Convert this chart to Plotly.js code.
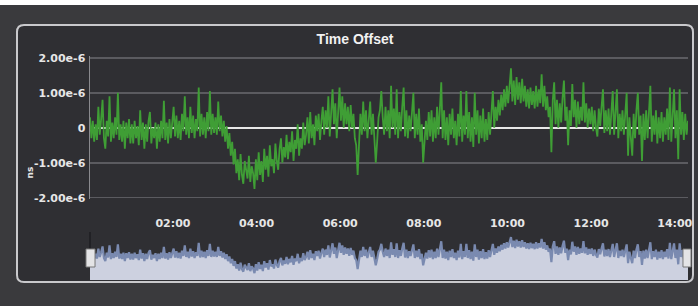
<!DOCTYPE html>
<html>
<head>
<meta charset="utf-8">
<script src="https://cdn.plot.ly/plotly-3.0.1.min.js"></script>
<style>html,body{margin:0;padding:0;background:#3a3a3d;}#chart{width:698px;height:306px;}</style>
</head>
<body>
<div id="chart"></div>
<script>
// ---- data (time offset, in units of 1e-6, one sample every 2 minutes from 00:01) ----
const startDay = '2015-01-01';
const startMinute = 1;      // 00:01
const stepMinutes = 2;
const offsetMicro = [
  // 00h
  0.3, -0.3, 0.2, -0.4, 0.1, -0.35, 0.6, -0.2, 0.25, 0.8, -0.3, -0.6, 0.2, -0.25, 0.9, -0.4, 0.15, -0.3, 0.3, -0.2, 1.0, -0.35, 0.1, -0.4, 0.2, -0.6, 0.15, -0.3, 0.25, -0.45,
  // 01h
  0.1, -0.45, 0.2, -0.3, 0.05, -0.5, 0.5, -0.35, 0.15, -0.6, 0.1, -0.4, 0.2, 0.45, -0.45, 0.0, -0.3, 0.15, -0.6, 0.1, -0.4, 0.2, -0.3, 0.77, -0.35, 0.15, -0.45, 0.25, -0.3, 0.2,
  // 02h
  0.6, -0.25, 0.35, -0.3, 0.2, -0.35, 0.4, -0.1, 0.9, -0.2, 0.3, -0.3, 0.6, -0.15, 0.35, -0.3, 0.25, -0.1, 1.15, -0.25, 0.4, -0.2, 0.3, -0.3, 0.45, -0.1, 1.05, -0.2, 0.4, -0.15,
  // 03h
  0.3, -0.2, 0.75, -0.1, 0.35, -0.25, 0.2, -0.4, 0.05, -0.6, -0.15, -0.8, -0.4, -1.05, -0.6, -1.3, -0.9, -1.5, -0.75, -1.35, -1.6, -0.95, -1.2, -1.45, -0.8, -1.55, -1.1, -1.3, -1.75, -0.9,
  // 04h
  -1.5, -0.7, -1.35, -0.95, -1.55, -0.6, -1.2, -0.8, -1.4, -0.5, -1.1, -0.9, -1.3, -0.45, -0.95, -1.2, -0.6, -0.3, -1.0, -0.55, -0.85, -0.2, -0.9, -0.4, -0.7, -0.1, -0.95, -0.35, -0.6, 0.1,
  // 05h
  -0.8, -0.3, -0.6, 0.15, -0.5, -0.2, 0.3, -0.45, 0.45, -0.3, 0.1, -0.5, 0.35, -0.1, 0.4, -0.35, 0.2, 0.6, -0.2, 0.5, 0.0, 0.9, -0.25, 0.6, 1.1, 0.1, 0.7, -0.3, 0.5, 1.15,
  // 06h
  0.2, 0.9, 0.0, 0.7, 0.1, 0.6, -0.1, 0.65, 0.0, 0.4, -0.3, -0.5, -1.35, -0.3, 0.4, -0.2, 0.75, -0.1, 0.5, -0.3, 0.35, 0.75, -0.2, 0.4, -0.3, -1.0, -0.4, 0.3, 0.5, 1.05,
  // 07h
  0.3, -0.2, 0.6, -0.1, 0.5, -0.3, 1.2, 0.0, 0.55, -0.2, 1.1, -0.3, 0.45, -0.1, 0.6, 1.15, -0.25, 0.5, -0.3, 0.35, -0.1, 0.5, 1.0, -0.3, 0.4, -0.2, 0.55, -0.4, 0.1, -1.0,
  // 08h
  -0.5, 0.2, -0.35, 0.45, -0.25, 0.5, -0.4, 0.3, -0.3, 0.6, -0.2, 0.4, 1.3, -0.3, 0.5, -0.35, 0.3, -0.5, 0.4, -0.2, 0.55, -0.3, 0.2, -0.5, 0.4, -0.25, 1.05, -0.4, 0.35, -0.2,
  // 09h
  1.05, -0.3, 0.45, -0.4, 0.3, -0.55, 1.0, -0.2, 0.5, -0.45, 0.35, -0.3, 0.55, -0.4, 0.25, -0.35, 0.45, -0.2, 0.3, 1.05, 0.0, 0.6, 0.2, 0.8, 0.35, 0.95, 0.5, 1.1, 0.6, 1.2,
  // 10h
  0.7, 1.3, 1.7, 0.75, 1.35, 0.65, 1.45, 0.8, 1.3, 0.7, 1.4, 0.75, 1.2, 0.6, 1.1, 0.55, 1.15, 0.65, 1.05, 0.55, 1.2, 0.6, 1.1, 0.7, 1.53, 0.6, 1.2, 0.5, 0.9, 0.3,
  // 11h
  0.6, -0.7, 0.8, 1.3, 0.1, 0.8, 0.0, 0.7, 0.15, 0.85, 1.35, 0.2, 0.6, -0.5, 0.5, 0.05, 1.25, 0.3, 0.8, 0.0, 0.75, 0.1, 0.6, 0.2, 1.3, 0.15, 0.7, 0.0, 0.55, 0.1,
  // 12h
  0.6, -0.1, 0.5, 0.0, -0.25, 0.55, 0.05, 0.6, 1.1, -0.15, 0.5, -0.1, 0.55, -0.2, 0.45, 1.05, -0.2, 0.5, 1.1, -0.3, 0.4, -0.1, 0.5, -0.2, 0.35, 1.0, -0.8, 0.3, -0.3, -0.8,
  // 13h
  0.4, -0.3, 0.5, 1.0, -0.2, 0.35, -0.95, 0.4, -0.35, 0.5, -0.3, 0.45, 1.2, -0.4, 0.35, -0.2, 0.5, -0.45, 0.3, -0.3, 0.45, -0.4, 0.3, -0.2, 0.55, -0.35, 1.15, -0.4, 0.4, 1.1,
  // 14h
  -0.3, 0.5, -0.9, 1.1, -0.2, 0.45, -0.35, 0.4, -0.2, 0.2
];
const yTickVals = [-2, -1, 0, 1, 2];
const yTickText = ['-2.00e-6', '-1.00e-6', '0', '1.00e-6', '2.00e-6'];
const chartTitle = 'Time Offset';
const yTitle = 'ns';
const navFloor = -2.4;
const navCeil = 1.8;

function stamp(m) {
  const h = Math.floor(m / 60), mm = m % 60;
  return startDay + ' ' + String(h).padStart(2, '0') + ':' + String(mm).padStart(2, '0');
}
const times = offsetMicro.map((_, i) => stamp(startMinute + i * stepMinutes));
const xRange = [times[0], times[times.length - 1]];

const tickFont = {family: 'DejaVu Sans', size: 11, color: '#e6e6e6', weight: 'bold'};

const traces = [
  {x: times, y: offsetMicro, type: 'scatter', mode: 'lines', xaxis: 'x', yaxis: 'y',
   line: {color: '#3f9e35', width: 1.8}, hoverinfo: 'skip'},
  {x: xRange, y: [navFloor, navFloor], type: 'scatter', mode: 'lines', xaxis: 'x2', yaxis: 'y2',
   line: {width: 0, color: 'rgba(0,0,0,0)'}, hoverinfo: 'skip'},
  {x: times, y: offsetMicro, type: 'scatter', mode: 'lines', xaxis: 'x2', yaxis: 'y2',
   fill: 'tonexty', fillcolor: '#cdd1e0', line: {color: '#7a8ab0', width: 2.2}, hoverinfo: 'skip'}
];

// panel geometry in paper units
const L = -0.12207, R = 1.00836, T = 1.13839, B = -0.00893, dx = 0.0117, dy = 0.03125;
const panelPath = `M ${L+dx},${T} L ${R-dx},${T} Q ${R},${T} ${R},${T-dy} L ${R},${B+dy} Q ${R},${B} ${R-dx},${B} L ${L+dx},${B} Q ${L},${B} ${L},${B+dy} L ${L},${T-dy} Q ${L},${T} ${L+dx},${T} Z`;

const layout = {
  width: 698, height: 306,
  margin: {l: 90, r: 10, t: 56, b: 26, pad: 0},
  paper_bgcolor: '#3a3a3d',
  plot_bgcolor: 'rgba(0,0,0,0)',
  showlegend: false,
  title: {text: chartTitle, xref: 'container', yref: 'container', x: 0.5086, y: 0.8725,
          xanchor: 'center', yanchor: 'middle',
          font: {family: 'Liberation Sans', size: 14, color: '#f2f2f2', weight: 'bold'}},
  xaxis: {type: 'date', range: xRange, domain: [0, 1], anchor: 'y',
          tickformat: '%H:%M', dtick: 7200000, tick0: startDay + ' 00:00',
          showgrid: false, zeroline: false, showline: false,
          ticks: 'outside', ticklen: 13, tickcolor: 'rgba(0,0,0,0)',
          tickfont: tickFont},
  yaxis: {domain: [0.3594, 1], range: [-2.05, 2.05], anchor: 'x',
          tickvals: yTickVals, ticktext: yTickText,
          showgrid: true, gridcolor: '#5b5b60', gridwidth: 1.5,
          zeroline: true, zerolinecolor: '#e8e8e8', zerolinewidth: 1.8,
          showline: true, linecolor: '#8a8a8e', linewidth: 1.5,
          ticks: 'outside', ticklen: 1, tickcolor: 'rgba(0,0,0,0)',
          tickfont: tickFont},
  xaxis2: {type: 'date', range: xRange, domain: [0, 1], anchor: 'y2', visible: false, showgrid: false},
  yaxis2: {domain: [0, 0.1964], range: [navFloor, navCeil], anchor: 'x2', visible: false, showgrid: false, zeroline: false},
  annotations: [
    {text: yTitle, xref: 'paper', yref: 'paper', x: -0.112, y: 0.48, textangle: -90,
     showarrow: false, font: {family: 'DejaVu Sans', size: 9, color: '#e6e6e6', weight: 'bold'}}
  ],
  shapes: [
    {type: 'rect', xref: 'paper', yref: 'paper', x0: -0.2, x1: 1.1, y0: 1.2277, y1: 1.3,
     fillcolor: '#ffffff', line: {width: 0}, layer: 'below'},
    {type: 'path', xref: 'paper', yref: 'paper', path: panelPath,
     fillcolor: '#2f2f33', line: {color: '#c9c9cc', width: 2}, layer: 'below'},
    {type: 'line', xref: 'paper', yref: 'paper', x0: 0, x1: 0, y0: 0.1339, y1: 0.2143,
     line: {color: '#1e1e22', width: 1.5}},
    {type: 'rect', xref: 'paper', yref: 'paper', x0: -0.0067, x1: 0.0084, y0: 0.058, y1: 0.1384,
     fillcolor: '#e4e4e6', line: {color: '#777', width: 1}},
    {type: 'rect', xref: 'paper', yref: 'paper', x0: 0.9916, x1: 1.0050, y0: 0.058, y1: 0.1384,
     fillcolor: '#e4e4e6', line: {color: '#777', width: 1}}
  ]
};

Plotly.newPlot('chart', traces, layout, {displayModeBar: false, staticPlot: true});
</script>
</body>
</html>
